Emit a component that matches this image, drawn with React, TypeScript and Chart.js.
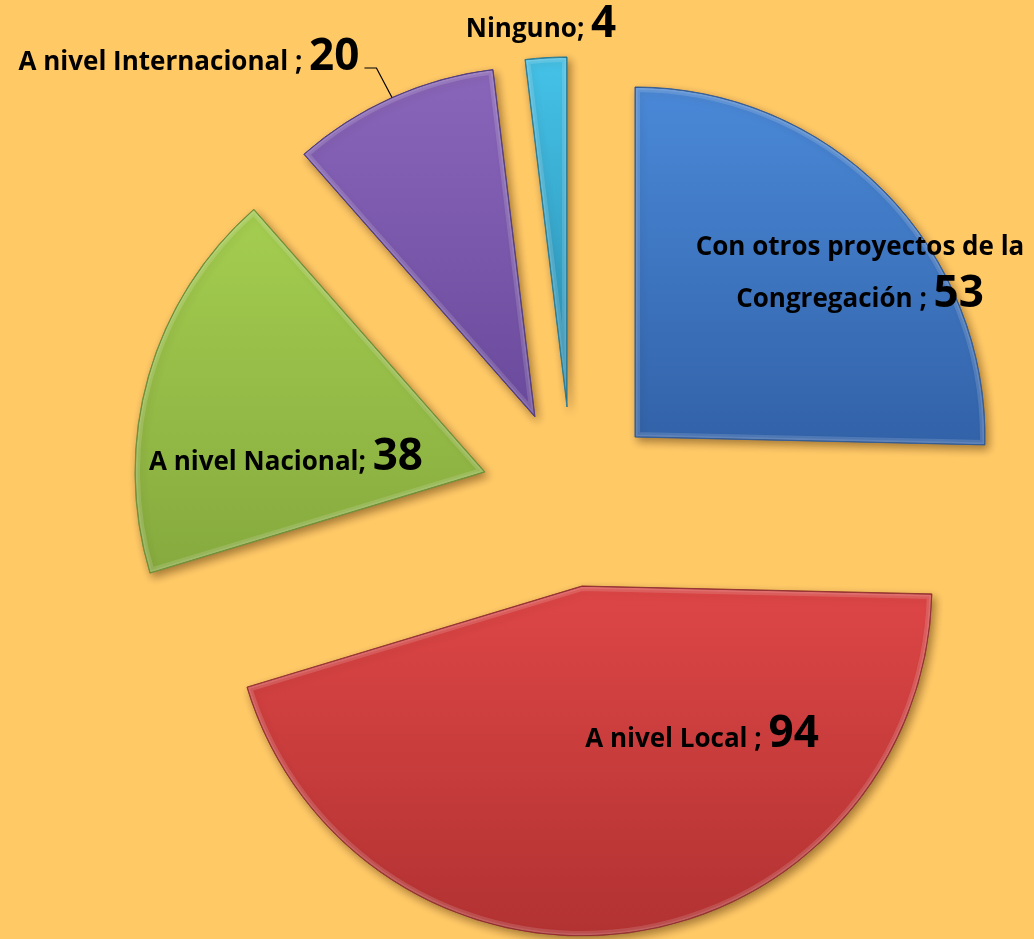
import React, { useEffect, useRef } from "react";
import { Chart, registerables } from "chart.js";

Chart.register(...registerables);

// ---- data ----
const CATEGORIES = [
  "Con otros proyectos de la Congregación",
  "A nivel Local",
  "A nivel Nacional",
  "A nivel Internacional",
  "Ninguno",
];
const VALUES = [53, 94, 38, 20, 4];
const SEPARATORS = [" ; ", " ; ", "; ", " ; ", "; "];
const FIRST_LINE_WORDS = [5, 0, 0, 0, 0];

// ---- style ----
const BG = "#FFC966";
const COLORS_TOP = ["#4a89d8", "#de4646", "#a4ce50", "#8a66ba", "#45c2e8"];
const COLORS_BOTTOM = ["#3262a8", "#b23232", "#86aa3e", "#6a4a9c", "#2a8db0"];
const BORDERS = ["#2c5590", "#8f2a2a", "#6a8a30", "#4e3678", "#23758f"];
const RADIUS = 350;
const EXPLODE: [number, number][] = [
  [63, -61],
  [10, 88],
  [-87, -26],
  [-37, -81],
  [-5, -91],
];
// label anchor relative to pie centre: [centre x, first baseline y]
const LABEL_POS: [number, number][] = [
  [288, -243],
  [130, 249],
  [-286, -28],
  [-383, -428],
  [-31, -461],
];
const LINE_HEIGHT = 52;
const FONT_FAMILY = "'Open Sans', Lato, sans-serif";
const SMALL_FONT = `bold 26px ${FONT_FAMILY}`;
const BIG_FONT = `bold 44px ${FONT_FAMILY}`;

function sectorBounds(cx: number, cy: number, r: number, a0: number, a1: number) {
  const pts: [number, number][] = [[cx, cy]];
  pts.push([cx + Math.cos(a0) * r, cy + Math.sin(a0) * r]);
  pts.push([cx + Math.cos(a1) * r, cy + Math.sin(a1) * r]);
  for (let k = -4; k <= 8; k++) {
    const a = (k * Math.PI) / 2;
    if (a > a0 && a < a1) pts.push([cx + Math.cos(a) * r, cy + Math.sin(a) * r]);
  }
  const ys = pts.map((p) => p[1]);
  return { top: Math.min(...ys), bottom: Math.max(...ys) };
}

function sliceAngles(i: number) {
  const total = VALUES.reduce((a, b) => a + b, 0);
  const before = VALUES.slice(0, i).reduce((a, b) => a + b, 0);
  const a0 = -Math.PI / 2 + (before / total) * Math.PI * 2;
  const a1 = a0 + (VALUES[i] / total) * Math.PI * 2;
  return [a0, a1];
}

const explodedPlugin = {
  id: "explodedSlices",
  beforeDatasetDraw(chart: any) {
    const meta = chart.getDatasetMeta(0);
    const ctx = chart.ctx as CanvasRenderingContext2D;
    meta.data.forEach((arc: any, i: number) => {
      const [dx, dy] = EXPLODE[i];
      ctx.save();
      ctx.translate(dx, dy);
      ctx.shadowColor = "rgba(60,30,0,0.45)";
      ctx.shadowBlur = 8;
      ctx.shadowOffsetX = 3;
      ctx.shadowOffsetY = 4;
      arc.draw(ctx);
      ctx.restore();

      // soft bevel highlight inside the slice
      const { x, y, startAngle, endAngle, outerRadius } = arc.getProps(
        ["x", "y", "startAngle", "endAngle", "outerRadius"],
        true
      );
      ctx.save();
      ctx.translate(dx, dy);
      ctx.beginPath();
      ctx.moveTo(x, y);
      ctx.arc(x, y, outerRadius, startAngle, endAngle);
      ctx.closePath();
      ctx.clip();
      ctx.lineJoin = "round";
      ctx.strokeStyle = "rgba(255,255,255,0.14)";
      ctx.lineWidth = 10;
      ctx.stroke();
      ctx.strokeStyle = "rgba(255,255,255,0.10)";
      ctx.lineWidth = 5;
      ctx.stroke();
      ctx.strokeStyle = BORDERS[i];
      ctx.lineWidth = 1.5;
      ctx.stroke();
      ctx.restore();
    });
    return false;
  },
  afterDatasetsDraw(chart: any) {
    const meta = chart.getDatasetMeta(0);
    const ctx = chart.ctx as CanvasRenderingContext2D;
    const first = meta.data[0];
    const cx = first.x;
    const cy = first.y;
    ctx.save();
    ctx.fillStyle = "#000";
    ctx.textBaseline = "alphabetic";
    CATEGORIES.forEach((name, i) => {
      const words = name.split(" ");
      const n = FIRST_LINE_WORDS[i];
      const lineX = cx + LABEL_POS[i][0];
      let baseY = cy + LABEL_POS[i][1];
      if (n > 0) {
        ctx.font = SMALL_FONT;
        ctx.textAlign = "center";
        ctx.fillText(words.slice(0, n).join(" "), lineX, baseY);
        baseY += LINE_HEIGHT;
      }
      const small = words.slice(n).join(" ") + SEPARATORS[i];
      const num = String(VALUES[i]);
      ctx.font = SMALL_FONT;
      const ws = ctx.measureText(small).width;
      ctx.font = BIG_FONT;
      const wn = ctx.measureText(num).width;
      const startX = lineX - (ws + wn) / 2;
      ctx.textAlign = "left";
      ctx.font = SMALL_FONT;
      ctx.fillText(small, startX, baseY);
      ctx.font = BIG_FONT;
      ctx.fillText(num, startX + ws, baseY);

      if (i === 3) {
        // leader line to the slice edge
        const arc = meta.data[i];
        const mid = (arc.startAngle + arc.endAngle) / 2;
        const px = arc.x + EXPLODE[i][0] + Math.cos(mid) * arc.outerRadius;
        const py = arc.y + EXPLODE[i][1] + Math.sin(mid) * arc.outerRadius;
        const ex = startX + ws + wn + 5;
        ctx.beginPath();
        ctx.moveTo(ex, baseY - 2);
        ctx.lineTo(ex + 12, baseY - 2);
        ctx.lineTo(px, py);
        ctx.strokeStyle = "#000";
        ctx.lineWidth = 1.2;
        ctx.stroke();
      }
    });
    ctx.restore();
  },
};

export default function App() {
  const canvasRef = useRef<HTMLCanvasElement | null>(null);

  useEffect(() => {
    const canvas = canvasRef.current;
    if (!canvas) return;
    const chart = new Chart(canvas, {
      type: "pie",
      data: {
        labels: CATEGORIES,
        datasets: [
          {
            data: VALUES,
            backgroundColor: (c: any) => {
              const i = c.dataIndex;
              const chartObj = c.chart;
              const area = chartObj.chartArea;
              if (!area || i === undefined) return COLORS_TOP[i ?? 0];
              const cx = (area.left + area.right) / 2;
              const cy = (area.top + area.bottom) / 2;
              const [a0, a1] = sliceAngles(i);
              const b = sectorBounds(cx, cy, RADIUS, a0, a1);
              const g = chartObj.ctx.createLinearGradient(0, b.top, 0, b.bottom);
              g.addColorStop(0, COLORS_TOP[i]);
              g.addColorStop(1, COLORS_BOTTOM[i]);
              return g;
            },
            borderColor: BORDERS,
            borderWidth: 1,
          },
        ],
      },
      options: {
        animation: false,
        responsive: false,
        maintainAspectRatio: false,
        radius: RADIUS,
        events: [],
        layout: { padding: { left: 110, top: 57, right: 0, bottom: 0 } },
        plugins: {
          legend: { display: false },
          tooltip: { enabled: false },
        },
      } as any,
      plugins: [explodedPlugin],
    });
    return () => chart.destroy();
  }, []);

  return (
    <div
      style={{
        position: "absolute",
        left: 0,
        top: 0,
        width: 1034,
        height: 939,
        background: BG,
      }}
    >
      <canvas ref={canvasRef} width={1034} height={939} style={{ display: "block" }} />
    </div>
  );
}
